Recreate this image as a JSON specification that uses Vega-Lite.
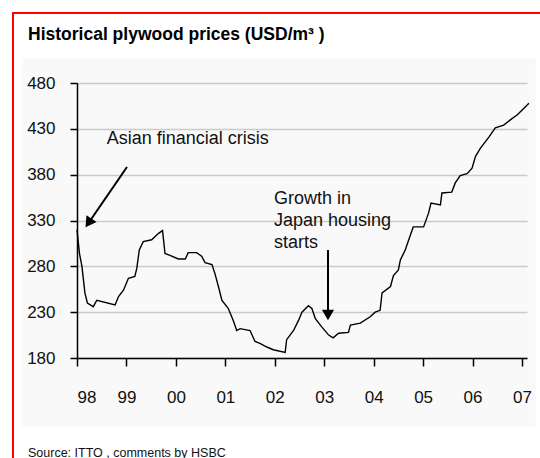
{
  "$schema": "https://vega.github.io/schema/vega-lite/v6.json",
  "width": 450,
  "height": 275,
  "autosize": {"type": "none"},
  "padding": {"left": 77, "top": 83, "right": 13, "bottom": 100},
  "background": "white",
  "config": {"view": {"stroke": null}, "font": "Liberation Sans"},
  "datasets": {
    "prices": [
      {"t": 1998.00, "p": 320}, {"t": 1998.05, "p": 294}, {"t": 1998.10, "p": 280}, {"t": 1998.16, "p": 251},
      {"t": 1998.21, "p": 240}, {"t": 1998.33, "p": 236}, {"t": 1998.40, "p": 243}, {"t": 1998.77, "p": 238},
      {"t": 1998.84, "p": 247}, {"t": 1998.94, "p": 254}, {"t": 1999.04, "p": 267}, {"t": 1999.17, "p": 269},
      {"t": 1999.21, "p": 278}, {"t": 1999.26, "p": 298}, {"t": 1999.34, "p": 307}, {"t": 1999.51, "p": 309},
      {"t": 1999.65, "p": 316}, {"t": 1999.73, "p": 319}, {"t": 1999.78, "p": 294}, {"t": 1999.88, "p": 292},
      {"t": 2000.05, "p": 288}, {"t": 2000.19, "p": 288}, {"t": 2000.25, "p": 295}, {"t": 2000.42, "p": 295},
      {"t": 2000.52, "p": 291}, {"t": 2000.59, "p": 284}, {"t": 2000.73, "p": 282}, {"t": 2000.79, "p": 272},
      {"t": 2000.86, "p": 258}, {"t": 2000.93, "p": 243}, {"t": 2001.06, "p": 234}, {"t": 2001.16, "p": 221},
      {"t": 2001.23, "p": 210}, {"t": 2001.30, "p": 212}, {"t": 2001.50, "p": 210}, {"t": 2001.60, "p": 198},
      {"t": 2001.70, "p": 196}, {"t": 2001.84, "p": 192}, {"t": 2001.97, "p": 189}, {"t": 2002.21, "p": 186},
      {"t": 2002.24, "p": 200}, {"t": 2002.38, "p": 210}, {"t": 2002.48, "p": 221}, {"t": 2002.55, "p": 230},
      {"t": 2002.68, "p": 237}, {"t": 2002.75, "p": 234}, {"t": 2002.82, "p": 223}, {"t": 2002.95, "p": 214},
      {"t": 2003.09, "p": 205}, {"t": 2003.18, "p": 202}, {"t": 2003.29, "p": 207}, {"t": 2003.49, "p": 208},
      {"t": 2003.53, "p": 216}, {"t": 2003.73, "p": 218}, {"t": 2003.93, "p": 225}, {"t": 2004.03, "p": 230},
      {"t": 2004.13, "p": 232}, {"t": 2004.17, "p": 251}, {"t": 2004.34, "p": 258}, {"t": 2004.40, "p": 270},
      {"t": 2004.50, "p": 276}, {"t": 2004.54, "p": 287}, {"t": 2004.64, "p": 298}, {"t": 2004.71, "p": 309},
      {"t": 2004.80, "p": 323}, {"t": 2005.01, "p": 323}, {"t": 2005.11, "p": 338}, {"t": 2005.16, "p": 349},
      {"t": 2005.35, "p": 347}, {"t": 2005.38, "p": 360}, {"t": 2005.58, "p": 361}, {"t": 2005.65, "p": 371},
      {"t": 2005.75, "p": 379}, {"t": 2005.89, "p": 381}, {"t": 2005.99, "p": 387}, {"t": 2006.06, "p": 400},
      {"t": 2006.16, "p": 409}, {"t": 2006.33, "p": 421}, {"t": 2006.46, "p": 431}, {"t": 2006.63, "p": 434},
      {"t": 2006.77, "p": 440}, {"t": 2006.90, "p": 445}, {"t": 2007.03, "p": 452}, {"t": 2007.14, "p": 458}
    ],
    "notes": [
      {"id": "asia", "text": "Asian financial crisis", "t": 1998.60, "p": 413.5},
      {"id": "japan", "text": "Growth in", "t": 2001.984, "p": 348.0},
      {"id": "japan", "text": "Japan housing", "t": 2001.984, "p": 324.0},
      {"id": "japan", "text": "starts", "t": 2001.984, "p": 300.0}
    ],
    "arrows": [
      {"id": "asia", "t": 1999.011, "p": 388.4, "t2": 1998.233, "p2": 327.3},
      {"id": "japan", "t": 2003.076, "p": 297.8, "t2": 2003.076, "p2": 226.9}
    ],
    "frame": [
      {"part": "panel", "t": 1996.888, "t2": 2007.283, "p": 507.3, "p2": 104.7},
      {"part": "border", "t": 1996.706, "t2": 2007.77, "p": 556.4, "p2": 46.9}
    ],
    "labels": [
      {"kind": "title", "text": "Historical plywood prices (USD/m³ )", "t": 1997.009, "p": 526.9},
      {"kind": "source", "text": "Source: ITTO , comments by HSBC", "t": 1997.009, "p": 71.5}
    ]
  },
  "encoding": {
    "x": {"field": "t", "type": "quantitative", "scale": {"domain": [1998, 2007.1012], "nice": false, "zero": false}},
    "y": {"field": "p", "type": "quantitative", "scale": {"domain": [180, 480], "nice": false, "zero": false}}
  },
  "layer": [
    {
      "data": {"name": "frame"},
      "transform": [{"filter": "datum.part == 'panel'"}],
      "mark": {"type": "rect", "fill": "#000000", "fillOpacity": 0.022, "strokeWidth": 0},
      "encoding": {"x2": {"field": "t2"}, "y2": {"field": "p2"}}
    },
    {
      "data": {"name": "frame"},
      "transform": [{"filter": "datum.part == 'border'"}],
      "mark": {"type": "rect", "fill": null, "filled": false, "stroke": "#ff0000", "strokeWidth": 2},
      "encoding": {"x2": {"field": "t2"}, "y2": {"field": "p2"}}
    },
    {
      "data": {"name": "prices"},
      "mark": {"type": "line", "color": "#000000", "strokeWidth": 1.4},
      "encoding": {
        "x": {"field": "t", "type": "quantitative", "axis": {"values": [1998, 1999, 2000, 2001, 2002, 2003, 2004, 2005, 2006, 2007], "labelExpr": "substring(toString(datum.value), 2)", "title": null, "grid": false, "domainColor": "#000000", "domainWidth": 1.5, "tickColor": "#000000", "tickWidth": 1.5, "tickSize": 8, "labelPadding": 23, "labelFontSize": 17, "labelColor": "#111111", "labelFont": "Liberation Sans"}},
        "y": {"field": "p", "type": "quantitative", "axis": {"values": [180, 230, 280, 330, 380, 430, 480], "title": null, "grid": true, "gridColor": "#cfcfcf", "gridWidth": 1.5, "domainColor": "#000000", "domainWidth": 1.5, "tickColor": "#000000", "tickWidth": 1.5, "tickSize": 7, "labelPadding": 15, "labelFontSize": 17, "labelColor": "#111111", "labelFont": "Liberation Sans"}}
      }
    },
    {
      "data": {"name": "arrows"},
      "mark": {"type": "rule", "color": "#000000", "strokeWidth": 2},
      "encoding": {"x2": {"field": "t2"}, "y2": {"field": "p2"}}
    },
    {
      "data": {"name": "arrows"},
      "transform": [{"filter": "datum.id == 'asia'"}],
      "mark": {"type": "point", "shape": "triangle-up", "filled": true, "color": "#000000", "size": 150, "angle": 214.5, "opacity": 1},
      "encoding": {"x": {"field": "t2", "type": "quantitative"}, "y": {"field": "p2", "type": "quantitative"}}
    },
    {
      "data": {"name": "arrows"},
      "transform": [{"filter": "datum.id == 'japan'"}],
      "mark": {"type": "point", "shape": "triangle-down", "filled": true, "color": "#000000", "size": 150, "opacity": 1},
      "encoding": {"x": {"field": "t2", "type": "quantitative"}, "y": {"field": "p2", "type": "quantitative"}}
    },
    {
      "data": {"name": "notes"},
      "mark": {"type": "text", "align": "left", "baseline": "alphabetic", "fontSize": 18, "font": "Liberation Sans", "color": "#111111"},
      "encoding": {"text": {"field": "text"}}
    },
    {
      "data": {"name": "labels"},
      "transform": [{"filter": "datum.kind == 'title'"}],
      "mark": {"type": "text", "align": "left", "baseline": "alphabetic", "fontSize": 17.5, "fontWeight": "bold", "font": "Liberation Sans", "color": "#000000"},
      "encoding": {"text": {"field": "text"}}
    },
    {
      "data": {"name": "labels"},
      "transform": [{"filter": "datum.kind == 'source'"}],
      "mark": {"type": "text", "align": "left", "baseline": "alphabetic", "fontSize": 12.5, "font": "Liberation Sans", "color": "#111111"},
      "encoding": {"text": {"field": "text"}}
    }
  ]
}
